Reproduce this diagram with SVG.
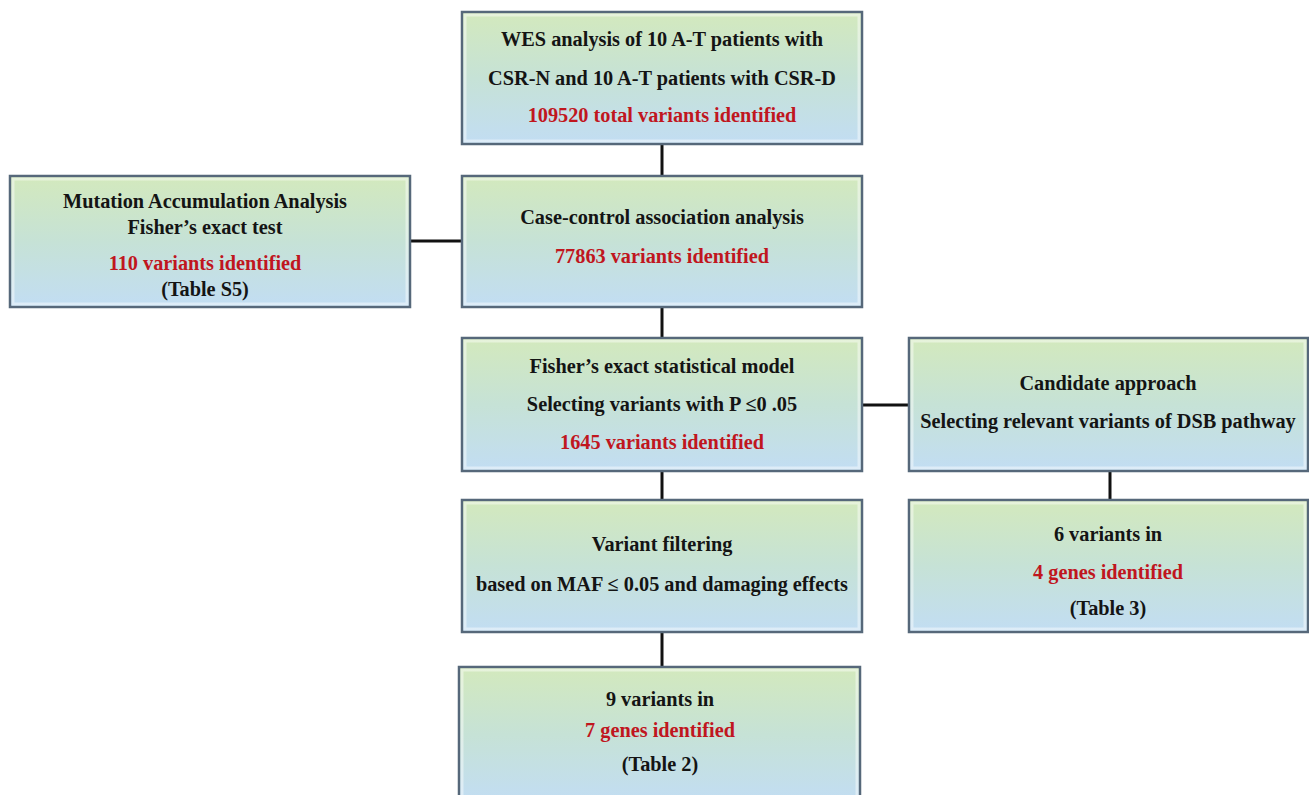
<svg xmlns="http://www.w3.org/2000/svg" width="1309" height="795" viewBox="0 0 1309 795">
<defs>
<linearGradient id="g" x1="0" y1="0" x2="0" y2="1">
<stop offset="0" stop-color="#d3e9bd"/>
<stop offset="0.5" stop-color="#c6e2d6"/>
<stop offset="1" stop-color="#c2ddf3"/>
</linearGradient>
</defs>
<style>
.box{fill:url(#g);stroke:#56687a;stroke-width:2.5}
.bev{fill:none;stroke:#ffffff;stroke-opacity:0.45;stroke-width:3}
text{font-family:"Liberation Serif","Times New Roman",serif;font-weight:bold;font-size:20.3px;text-anchor:middle;fill:#141414}
.r{fill:#c0161e}
.c{stroke:#111;stroke-width:3;fill:none}
</style>
<rect width="1309" height="795" fill="#ffffff"/>
<g id="connectors">
<line class="c" x1="662" y1="144" x2="662" y2="176"/>
<line class="c" x1="662" y1="307" x2="662" y2="338"/>
<line class="c" x1="662" y1="471" x2="662" y2="500"/>
<line class="c" x1="662" y1="632" x2="662" y2="667"/>
<line class="c" x1="410" y1="241" x2="462" y2="241"/>
<line class="c" x1="862" y1="405" x2="909" y2="405"/>
<line class="c" x1="1110" y1="471" x2="1110" y2="500"/>
</g>
<g id="wes">
<rect class="box" x="462" y="12" width="400" height="132"/>
<rect class="bev" x="465" y="15" width="394" height="126"/>
<text x="662" y="46">WES analysis of 10 A-T patients with</text>
<text x="662" y="85">CSR-N and 10 A-T patients with CSR-D</text>
<text class="r" x="662" y="122">109520 total variants identified</text>
</g>
<g id="mutation">
<rect class="box" x="10" y="176" width="400" height="131"/>
<rect class="bev" x="13" y="179" width="394" height="125"/>
<text x="205" y="208">Mutation Accumulation Analysis</text>
<text x="205" y="234">Fisher’s exact test</text>
<text class="r" x="205" y="270">110 variants identified</text>
<text x="205" y="296">(Table S5)</text>
</g>
<g id="casecontrol">
<rect class="box" x="462" y="176" width="400" height="131"/>
<rect class="bev" x="465" y="179" width="394" height="125"/>
<text x="662" y="224">Case-control association analysis</text>
<text class="r" x="662" y="263">77863 variants identified</text>
</g>
<g id="fisher">
<rect class="box" x="462" y="338" width="400" height="133"/>
<rect class="bev" x="465" y="341" width="394" height="127"/>
<text x="662" y="373">Fisher’s exact statistical model</text>
<text x="662" y="411">Selecting variants with P ≤0 .05</text>
<text class="r" x="662" y="449">1645 variants identified</text>
</g>
<g id="candidate">
<rect class="box" x="909" y="338" width="399" height="133"/>
<rect class="bev" x="912" y="341" width="393" height="127"/>
<text x="1108" y="390">Candidate approach</text>
<text x="1108" y="428">Selecting relevant variants of DSB pathway</text>
</g>
<g id="filtering">
<rect class="box" x="462" y="500" width="400" height="132"/>
<rect class="bev" x="465" y="503" width="394" height="126"/>
<text x="662" y="551">Variant filtering</text>
<text x="662" y="591">based on MAF ≤ 0.05 and damaging effects</text>
</g>
<g id="dsb">
<rect class="box" x="909" y="500" width="399" height="132"/>
<rect class="bev" x="912" y="503" width="393" height="126"/>
<text x="1108" y="541">6 variants in</text>
<text class="r" x="1108" y="579">4 genes identified</text>
<text x="1108" y="615">(Table 3)</text>
</g>
<g id="result">
<rect class="box" x="459" y="667" width="401" height="135"/>
<rect class="bev" x="462" y="670" width="395" height="129"/>
<text x="660" y="706">9 variants in</text>
<text class="r" x="660" y="737">7 genes identified</text>
<text x="660" y="771">(Table 2)</text>
</g>
</svg>
